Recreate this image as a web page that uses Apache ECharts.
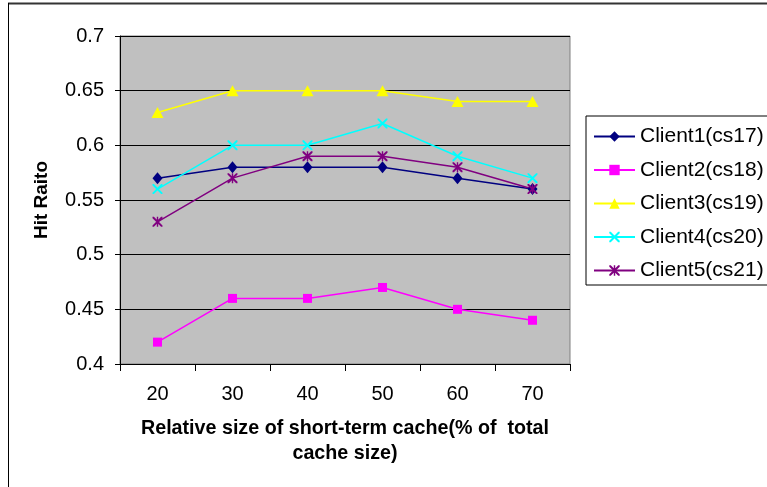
<!DOCTYPE html>
<html>
<head>
<meta charset="utf-8">
<script src="https://cdn.jsdelivr.net/npm/echarts@6/dist/echarts.min.js"></script>
<style>html,body{margin:0;padding:0;background:#fff;}#c{width:767px;height:487px;}</style>
</head>
<body>
<div id="c"></div>
<script>
const categories = ['20', '30', '40', '50', '60', '70'];
const client1 = [0.57, 0.58, 0.58, 0.58, 0.57, 0.56];
const client2 = [0.42, 0.46, 0.46, 0.47, 0.45, 0.44];
const client3 = [0.63, 0.65, 0.65, 0.65, 0.64, 0.64];
const client4 = [0.56, 0.60, 0.60, 0.62, 0.59, 0.57];
const client5 = [0.53, 0.57, 0.59, 0.59, 0.58, 0.56];
const seriesNames = ['Client1(cs17)', 'Client2(cs18)', 'Client3(cs19)', 'Client4(cs20)', 'Client5(cs21)'];

const FONT = '"Liberation Sans", Arial, sans-serif';
const xPath = 'path://M0,0 L1.4,0 L10,8.6 L10,10 L8.6,10 L0,1.4 Z M10,0 L10,1.4 L1.4,10 L0,10 L0,8.6 L8.6,0 Z';
const starPath = 'path://M0,0 L1.4,0 L10,8.6 L10,10 L8.6,10 L0,1.4 Z M10,0 L10,1.4 L1.4,10 L0,10 L0,8.6 L8.6,0 Z M4.3,0 L5.7,0 L5.7,10 L4.3,10 Z';

function mk(name, data, color, symbol, size) {
  return {
    name: name, type: 'line', data: data,
    symbol: symbol, symbolSize: size,
    lineStyle: { color: color, width: 1.5 },
    itemStyle: { color: color, borderWidth: 0 },
    emphasis: { disabled: true }
  };
}

const chart = echarts.init(document.getElementById('c'), null, { renderer: 'canvas' });
chart.setOption({
  animation: false,
  backgroundColor: '#ffffff',
  textStyle: { fontFamily: FONT },
  graphic: [
    { type: 'line', shape: { x1: 8, y1: 3.5, x2: 767, y2: 3.5 }, style: { stroke: '#333', lineWidth: 2 } },
    { type: 'line', shape: { x1: 8.5, y1: 3, x2: 8.5, y2: 487 }, style: { stroke: '#000', lineWidth: 1 } }
  ],
  grid: {
    left: 120, top: 36, right: 197, bottom: 123,
    show: true, backgroundColor: '#C0C0C0', borderColor: '#808080', borderWidth: 1
  },
  legend: {
    left: 586, top: 116,
    orient: 'vertical',
    backgroundColor: '#ffffff', borderColor: '#000', borderWidth: 1,
    padding: [10, 20, 4, 7],
    itemWidth: 41, itemHeight: 13, itemGap: 12.5,
    textStyle: { fontSize: 21, color: '#000', fontFamily: FONT, padding: [0, 0, 0, 0] },
    data: seriesNames
  },
  xAxis: {
    type: 'category', data: categories, boundaryGap: true,
    axisLine: { lineStyle: { color: '#000', width: 1 } },
    axisTick: { show: true, length: 7, inside: false, alignWithLabel: false, lineStyle: { color: '#000' } },
    axisLabel: { fontSize: 20, color: '#000', margin: 20, fontFamily: FONT },
    name: 'Relative size of short-term cache(% of  total\ncache size)',
    nameLocation: 'middle', nameGap: 52,
    nameTextStyle: { fontSize: 19.7, fontWeight: 'bold', color: '#000', lineHeight: 25, fontFamily: FONT }
  },
  yAxis: {
    type: 'value', min: 0.4, max: 0.7, interval: 0.05,
    axisLine: { show: true, lineStyle: { color: '#000', width: 1 } },
    axisTick: { show: true, length: 5, lineStyle: { color: '#000' } },
    axisLabel: { fontSize: 20, color: '#000', margin: 16, fontFamily: FONT },
    splitLine: { show: true, lineStyle: { color: '#000', width: 1 } },
    name: 'Hit Raito', nameLocation: 'middle', nameGap: 69,
    nameTextStyle: { fontSize: 19, fontWeight: 'bold', color: '#000', fontFamily: FONT }
  },
  series: [
    mk(seriesNames[0], client1, '#000080', 'diamond', [10, 12]),
    mk(seriesNames[1], client2, '#FF00FF', 'rect', 9),
    mk(seriesNames[2], client3, '#FFFF00', 'triangle', [12, 11]),
    mk(seriesNames[3], client4, '#00FFFF', xPath, 10),
    mk(seriesNames[4], client5, '#800080', starPath, 10)
  ]
});
</script>
</body>
</html>
